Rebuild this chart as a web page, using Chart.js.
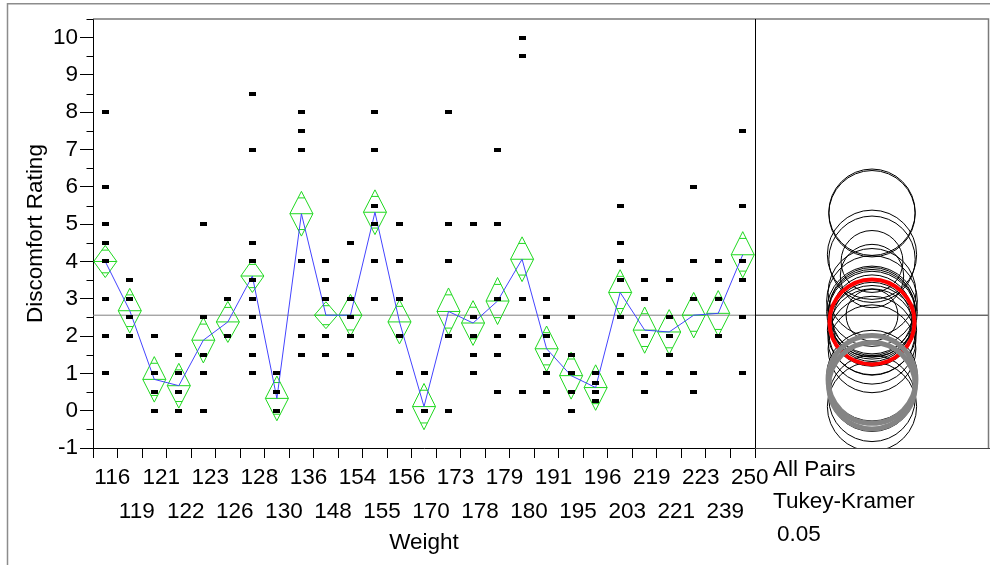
<!DOCTYPE html>
<html>
<head>
<meta charset="utf-8">
<script src="https://cdn.jsdelivr.net/npm/chart.js@4/dist/chart.umd.min.js"></script>
<style>
  html, body { margin: 0; padding: 0; background: #fff; }
  #wrap { position: relative; width: 990px; height: 565px; }
</style>
</head>
<body>
<div id="wrap"><canvas id="chart" width="990" height="565"></canvas></div>
<script>
// Weight groups (x categories)
const weights = ['116','119','121','122','123','126','128','130','136','148','154','155','156',
                 '170','173','178','179','180','191','195','196','203','219','221','223','239','250'];

// Discomfort ratings observed in each weight group
const ratings = [
  [8, 6, 5, 4.5, 4, 3, 2, 1],          // 116
  [3.5, 3, 2.5, 2],                    // 119
  [2, 1, 0.5, 0],                      // 121
  [1.5, 1, 0.5, 0],                    // 122
  [5, 2.5, 1.5, 1, 0],                 // 123
  [3, 2],                              // 126
  [8.5, 7, 4.5, 4, 3.5, 3, 2.5, 2, 1.5, 1], // 128
  [1, 0.5, 0],                         // 130
  [8, 7.5, 7, 4, 2, 1.5],              // 136
  [4, 3.5, 3, 2, 1.5],                 // 148
  [4.5, 3, 2.5, 2, 1.5],               // 154
  [8, 7, 5.5, 5, 4, 3],                // 155
  [5, 4, 3, 2, 1, 0],                  // 156
  [1, 0],                              // 170
  [8, 5, 4, 2, 0],                     // 173
  [5, 2.5, 2, 1.5, 1],                 // 178
  [7, 5, 3, 2, 1.5, 0.5],              // 179
  [10, 9.5, 3, 2, 0.5],                // 180
  [3, 2.5, 2, 1.5, 1, 0.5],            // 191
  [2.5, 1.5, 1, 0.5, 0],               // 195
  [1, 0.75, 0.5, 0.25],                // 196
  [5.5, 4.5, 4, 3.5, 2.5, 1.5, 1],     // 203
  [3.5, 3, 2, 1, 0.5],                 // 219
  [3.5, 2.5, 2, 1.5, 1],               // 221
  [6, 4, 3, 1, 0.5],                   // 223
  [4, 3.5, 3, 2],                      // 239
  [7.5, 5.5, 4, 3.5, 2.5, 1]           // 250
];

// Group means and 95% confidence half-widths (means diamonds)
const groupMeans = [4.00, 2.68, 0.84, 0.67, 1.89, 2.38, 3.61, 0.33, 5.28, 2.56, 2.56, 5.32, 2.38,
                    0.11, 2.66, 2.35, 2.94, 4.06, 1.66, 0.94, 0.62, 3.17, 2.16, 2.11, 2.56, 2.61, 4.18];
const ciHalf = [0.43, 0.60, 0.61, 0.60, 0.61, 0.55, 0.44, 0.60, 0.60, 0.36, 0.56, 0.60, 0.59,
                0.62, 0.63, 0.60, 0.63, 0.60, 0.61, 0.63, 0.61, 0.61, 0.62, 0.60, 0.61, 0.61, 0.62];

const grandMean = 2.56;
const yTickValues = [-1, 0, 1, 2, 3, 4, 5, 6, 7, 8, 9, 10];

// Comparison circles (Tukey-Kramer, alpha 0.05)
const tukeyRadiusFactor = 1.93;      // circle radius relative to the t half-width
const selectedGroup = '156';
const differentGroups = ['121', '122'];
const comparisonLabels = ['All Pairs', 'Tukey-Kramer', '0.05'];

const FONT = '"Liberation Sans", Arial, Helvetica, sans-serif';
const FONT_SIZE = 22.5;
const GREEN = '#1fd81f';
const BLUE = '#4444ff';

Chart.defaults.font.family = FONT;
Chart.defaults.font.size = FONT_SIZE;
Chart.defaults.color = '#000';

// small filled rectangle used as the observation marker
const marker = document.createElement('canvas');
marker.width = 7; marker.height = 4;
marker.getContext('2d').fillRect(0, 0, 7, 4);

const obsPoints = [];
weights.forEach((w, i) => ratings[i].forEach(v => obsPoints.push({ x: w, y: v })));
const meanPoints = weights.map((w, i) => ({ x: w, y: groupMeans[i] }));

function pxPerUnit(chart) {
  const y = chart.scales.y;
  return Math.abs(y.getPixelForValue(0) - y.getPixelForValue(1));
}
function circleData(filter) {
  const out = [];
  weights.forEach((w, i) => { if (filter(w)) out.push({ x: 0.5, y: groupMeans[i], ci: ciHalf[i] }); });
  return out;
}
function circleRadius(ctx) {
  const d = ctx.raw;
  return d ? d.ci * tukeyRadiusFactor * pxPerUnit(ctx.chart) : 0;
}

// grand mean reference line and means diamonds, drawn beneath the datasets
const diamondsPlugin = {
  id: 'meansDiamonds',
  beforeDatasetsDraw(chart) {
    const { ctx, chartArea, scales: { x, x2, y } } = chart;
    ctx.save();
    const gy = y.getPixelForValue(grandMean);
    ctx.lineWidth = 1;
    ctx.strokeStyle = '#808080';
    ctx.beginPath(); ctx.moveTo(chartArea.left, gy); ctx.lineTo(x.right, gy); ctx.stroke();
    ctx.strokeStyle = '#222';
    ctx.beginPath(); ctx.moveTo(x2.left, gy); ctx.lineTo(x2.right, gy); ctx.stroke();

    const half = (x.getPixelForValue(1) - x.getPixelForValue(0)) * 0.47;
    const markHalf = half * (1 - 1 / Math.SQRT2);
    ctx.strokeStyle = GREEN;
    weights.forEach((w, i) => {
      const m = groupMeans[i], h = ciHalf[i];
      const cx = x.getPixelForValue(i);
      const cy = y.getPixelForValue(m);
      const top = y.getPixelForValue(m + h);
      const bot = y.getPixelForValue(m - h);
      const up = y.getPixelForValue(m + h / Math.SQRT2);
      const dn = y.getPixelForValue(m - h / Math.SQRT2);
      ctx.beginPath();
      ctx.moveTo(cx - half, cy); ctx.lineTo(cx, top); ctx.lineTo(cx + half, cy); ctx.lineTo(cx, bot); ctx.closePath();
      ctx.moveTo(cx - half, cy); ctx.lineTo(cx + half, cy);
      ctx.moveTo(cx - markHalf, up); ctx.lineTo(cx + markHalf, up);
      ctx.moveTo(cx - markHalf, dn); ctx.lineTo(cx + markHalf, dn);
      ctx.stroke();
    });
    ctx.restore();
  }
};

// frames, minor y ticks and the comparison-circle caption
const framePlugin = {
  id: 'frames',
  afterDraw(chart) {
    const { ctx, chartArea, scales: { x, x2, y } } = chart;
    ctx.save();
    // report outline
    ctx.strokeStyle = '#8c8c8c';
    ctx.lineWidth = 1.5;
    ctx.beginPath(); ctx.moveTo(7.5, 565); ctx.lineTo(7.5, 3.8); ctx.lineTo(990, 3.8); ctx.stroke();
    // plot frame top and right
    ctx.strokeStyle = '#7a7a7a';
    ctx.lineWidth = 1.5;
    ctx.beginPath();
    ctx.moveTo(chartArea.left, chartArea.top); ctx.lineTo(chartArea.right - 0.5, chartArea.top);
    ctx.lineTo(chartArea.right - 0.5, chartArea.bottom);
    ctx.stroke();
    // divider between the means plot and the circles panel
    ctx.strokeStyle = '#000';
    ctx.lineWidth = 1;
    const dx = Math.round(x.right) + 0.5;
    ctx.beginPath(); ctx.moveTo(dx, chartArea.top); ctx.lineTo(dx, chartArea.bottom); ctx.stroke();
    // minor ticks on the y axis
    const ax = Math.round(y.right) + 0.5;
    ctx.beginPath();
    for (let v = -0.5; v <= 10.5; v += 1) {
      const py = Math.round(y.getPixelForValue(v)) + 0.5;
      ctx.moveTo(ax - 7, py); ctx.lineTo(ax, py);
    }
    ctx.stroke();
    // caption beneath the circles panel
    ctx.fillStyle = '#000';
    ctx.font = FONT_SIZE + 'px ' + FONT;
    ctx.textBaseline = 'middle';
    ctx.textAlign = 'left';
    const rows = [469.5, 502, 535];
    const indents = [18, 18, 22];
    comparisonLabels.forEach((t, i) => ctx.fillText(t, x2.left + indents[i], rows[i]));
    ctx.restore();
  }
};

const fixPadding = s => { s.paddingLeft = 0; s.paddingRight = 0; s.paddingTop = 0; s.paddingBottom = 0; };

new Chart(document.getElementById('chart'), {
  type: 'line',
  data: {
    datasets: [
      {
        label: 'different', xAxisID: 'x2', order: 1,
        data: circleData(w => differentGroups.includes(w)),
        showLine: false, pointStyle: 'circle', pointRadius: circleRadius,
        pointBackgroundColor: 'rgba(0,0,0,0)', pointBorderColor: '#848484', pointBorderWidth: 5
      },
      {
        label: 'selected', xAxisID: 'x2', order: 2,
        data: circleData(w => w === selectedGroup),
        showLine: false, pointStyle: 'circle', pointRadius: circleRadius,
        pointBackgroundColor: 'rgba(0,0,0,0)', pointBorderColor: '#ff0000', pointBorderWidth: 4
      },
      {
        label: 'circles', xAxisID: 'x2', order: 3,
        data: circleData(w => w !== selectedGroup && !differentGroups.includes(w)),
        showLine: false, pointStyle: 'circle', pointRadius: circleRadius,
        pointBackgroundColor: 'rgba(0,0,0,0)', pointBorderColor: '#000', pointBorderWidth: 1
      },
      {
        label: 'ratings', xAxisID: 'x', order: 4,
        data: obsPoints, showLine: false,
        pointStyle: marker, pointRadius: 3
      },
      {
        label: 'means', xAxisID: 'x', order: 5,
        data: meanPoints, borderColor: BLUE, borderWidth: 1, pointRadius: 0, tension: 0
      }
    ]
  },
  options: {
    responsive: false,
    animation: false,
    events: [],
    layout: { padding: { left: 8, top: 19, right: 1, bottom: 0 }, autoPadding: false },
    plugins: { legend: { display: false }, tooltip: { enabled: false } },
    scales: {
      x: {
        type: 'category', labels: weights, position: 'bottom',
        stack: 'bottomAxes', stackWeight: 662, offset: true,
        grid: { offset: true, drawOnChartArea: false, drawTicks: true, tickLength: 10, color: '#000' },
        border: { color: '#000', width: 1 },
        ticks: {
          autoSkip: false, maxRotation: 0, minRotation: 0, padding: 3, labelOffset: 7,
          color: '#000', font: { size: FONT_SIZE, lineHeight: 34 / FONT_SIZE },
          callback: (val, idx) => idx % 2 === 0 ? [weights[idx], ''] : ['', weights[idx]]
        },
        title: { display: true, text: 'Weight', color: '#000',
                 font: { size: FONT_SIZE, lineHeight: 1.2 }, padding: { top: 0, bottom: 9 } },
        afterFit: s => { s.height = 117; fixPadding(s); }
      },
      x2: {
        type: 'linear', min: 0, max: 1, position: 'bottom',
        stack: 'bottomAxes', stackWeight: 234,
        grid: { display: false }, ticks: { display: false },
        border: { color: '#444', width: 1 },
        afterFit: s => { s.height = 117; fixPadding(s); }
      },
      y: {
        type: 'linear', min: -1, max: 10.5, position: 'left',
        afterBuildTicks: s => { s.ticks = yTickValues.map(v => ({ value: v })); },
        grid: { drawOnChartArea: false, drawTicks: true, tickLength: 13, color: '#000' },
        border: { color: '#000', width: 1 },
        ticks: { padding: 2, color: '#000', font: { size: FONT_SIZE } },
        title: { display: true, text: 'Discomfort Rating', color: '#000',
                 font: { size: FONT_SIZE, lineHeight: 1.2 }, padding: { top: 14, bottom: 0 } },
        afterFit: s => { s.width = 85; fixPadding(s); }
      }
    }
  },
  plugins: [diamondsPlugin, framePlugin]
});
</script>
</body>
</html>
